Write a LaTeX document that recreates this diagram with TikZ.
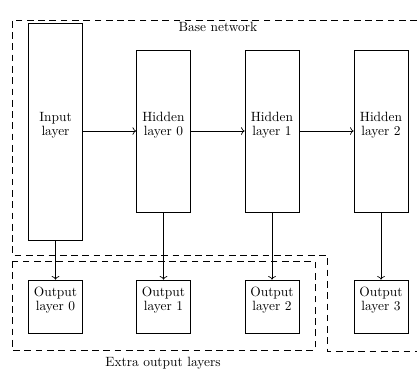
\documentclass[tikz,border=0pt]{standalone}
\usetikzlibrary{arrows.meta}
\begin{document}
\begin{tikzpicture}[x=0.745pt,y=-0.745pt,
  layerbox/.style={draw, line width=0.5pt, inner sep=0pt, minimum width=54*0.745pt},
  layertext/.style={align=center, inner sep=0pt, font=\fontsize{10pt}{10.4pt}\selectfont},
  region/.style={draw, line width=0.7pt, dash pattern=on 5pt off 3.4pt},
  link/.style={->, line width=0.5pt},
  caption/.style={inner sep=0pt, font=\fontsize{10pt}{12pt}\selectfont}]
\useasboundingbox (0,0) rectangle (417,374);

% dashed regions
\draw[region] (417,20) -- (12,20) -- (12,255) -- (327,255) -- (327,351) -- (417,351);
\draw[region] (12,261) rectangle (315,350);
\node[caption] (basecap) at (218,27) {Base network};
\node[caption] (extracap) at (163,363) {Extra output layers};

% layer boxes
\node[layerbox, minimum height=217*0.745pt] (in) at (55.5,131.5) {};
\node[layerbox, minimum height=162*0.745pt] (h0) at (163.5,131) {};
\node[layerbox, minimum height=162*0.745pt] (h1) at (272,131) {};
\node[layerbox, minimum height=162*0.745pt] (h2) at (381,131) {};
\node[layerbox, minimum height=53*0.745pt] (o0) at (55.5,306.5) {};
\node[layerbox, minimum height=53*0.745pt] (o1) at (163.5,306.5) {};
\node[layerbox, minimum height=53*0.745pt] (o2) at (272,306.5) {};
\node[layerbox, minimum height=53*0.745pt] (o3) at (381,306.5) {};

% labels inside the boxes
\node[layertext] (in-t) at (55.5,125) {Input\\layer};
\node[layertext] (h0-t) at (163.5,125) {Hidden\\layer 0};
\node[layertext] (h1-t) at (272,125) {Hidden\\layer 1};
\node[layertext] (h2-t) at (381,125) {Hidden\\layer 2};
\node[layertext] (o0-t) at (55.5,300) {Output\\layer 0};
\node[layertext] (o1-t) at (163.5,300) {Output\\layer 1};
\node[layertext] (o2-t) at (272,300) {Output\\layer 2};
\node[layertext] (o3-t) at (381,300) {Output\\layer 3};

% connections
\draw[link] (in.east |- h0.west) -- (h0.west);
\draw[link] (h0.east) -- (h1.west);
\draw[link] (h1.east) -- (h2.west);
\draw[link] (in.south) -- (o0.north);
\draw[link] (h0.south) -- (o1.north);
\draw[link] (h1.south) -- (o2.north);
\draw[link] (h2.south) -- (o3.north);
\end{tikzpicture}
\end{document}
